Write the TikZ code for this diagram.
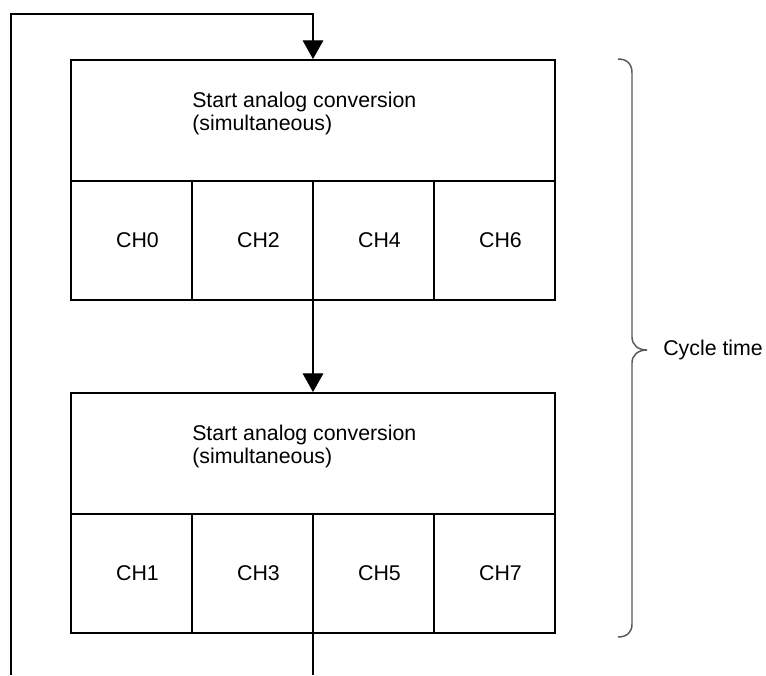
\documentclass[tikz,border=0pt]{standalone}
\usepackage{fontspec}
\setmainfont{Liberation Sans}
\usetikzlibrary{arrows.meta}
\begin{document}
\begin{tikzpicture}[x=0.75pt,y=-0.75pt,
  font=\fontsize{16pt}{17.25pt}\selectfont,
  box/.style={draw,line width=1.5pt,inner sep=0pt},
  hdr/.style={box,minimum width=363pt,minimum height=90.75pt},
  cell/.style={box,minimum width=90.75pt,minimum height=89.25pt},
  title/.style={anchor=west,align=left,inner sep=0pt},
  conn/.style={line width=0.8pt},
  arr/.style={conn,-{Triangle[width=15.5pt,length=14pt]}},
  bracestyle/.style={line width=1.1pt,draw=black!65}]
\useasboundingbox (0,0) rectangle (766,675);
% first group
\node[hdr] (h1) at (313,120.5) {};
\node[title] (t1) at (192,113) {Start analog conversion\\(simultaneous)};
\node[cell] (c0) at (131.5,240.5) {\hspace*{9pt}CH0};
\node[cell] (c2) at (252.5,240.5) {\hspace*{9pt}CH2};
\node[cell] (c4) at (373.5,240.5) {\hspace*{9pt}CH4};
\node[cell] (c6) at (494.5,240.5) {\hspace*{9pt}CH6};
% second group
\node[hdr] (h2) at (313,453.5) {};
\node[title] (t2) at (192,446) {Start analog conversion\\(simultaneous)};
\node[cell] (c1) at (131.5,573.5) {\hspace*{9pt}CH1};
\node[cell] (c3) at (252.5,573.5) {\hspace*{9pt}CH3};
\node[cell] (c5) at (373.5,573.5) {\hspace*{9pt}CH5};
\node[cell] (c7) at (494.5,573.5) {\hspace*{9pt}CH7};
% connectors
\coordinate (loopstart) at (11,675);
\coordinate (looptop) at (313,14);
\coordinate (outend) at (313,675);
\draw[arr] (loopstart) |- (looptop) -- (h1.north);
\draw[arr] (h2.north |- c4.south) -- (h2.north);
\draw[conn] (outend |- c5.south) -- (outend);
% brace
\draw[bracestyle] (618,59) .. controls (627,59) and (632,64) .. (632,73)
  -- (632,337) .. controls (632,345) and (638,350) .. (647,350)
  .. controls (638,350) and (632,355) .. (632,363)
  -- (632,624) .. controls (632,632) and (627,637) .. (618,637);
\node[anchor=west,inner sep=0pt] (ct) at (663,350) {Cycle time};
\end{tikzpicture}
\end{document}
